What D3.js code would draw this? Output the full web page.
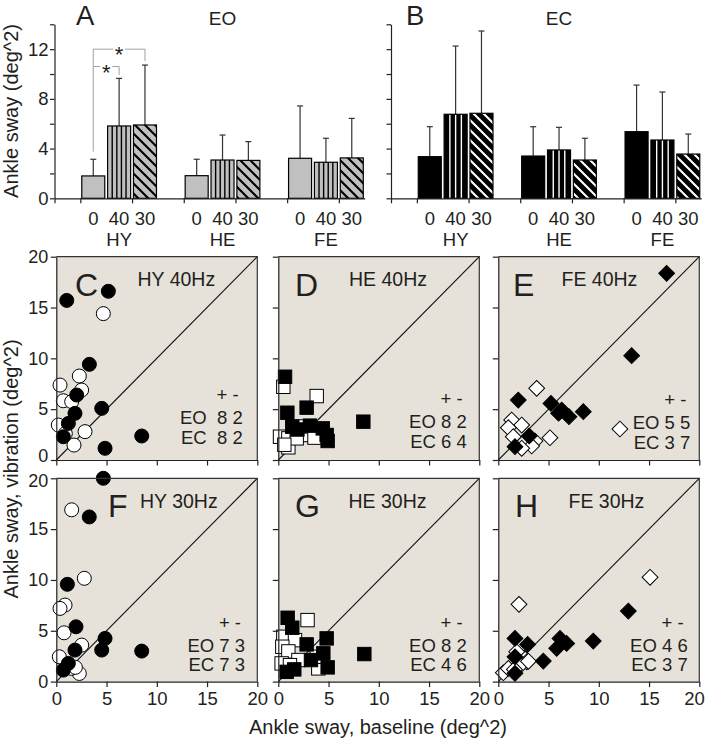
<!DOCTYPE html>
<html><head><meta charset="utf-8">
<script src="https://cdn.jsdelivr.net/npm/d3@7"></script>
<style>
body{margin:0;background:#fff;}
svg{display:block;font-family:"Liberation Sans",Arial,Helvetica,sans-serif;}
text{fill:#231f20;}
</style></head><body>
<svg id="chart" width="705" height="741"></svg>
<script>
// ---------------- DATA ----------------
const barGroups = ["HY", "HE", "FE"];
const barFreqs = ["0", "40", "30"];
// means and error-bar tops (mean + SD), order: HY0 HY40 HY30 HE0 HE40 HE30 FE0 FE40 FE30
const eoMean = [1.8, 5.82, 5.9, 1.82, 3.08, 3.05, 3.22, 2.9, 3.25];
const eoErrTop = [3.14, 9.65, 10.72, 3.14, 5.09, 4.56, 7.43, 4.83, 6.43];
const ecMean = [3.35, 6.76, 6.84, 3.4, 3.89, 3.08, 5.36, 4.69, 3.56];
const ecErrTop = [5.76, 12.25, 13.46, 5.76, 5.71, 4.83, 9.11, 8.55, 5.17];
const barYTicks = [0, 2, 4, 6, 8, 10, 12, 14];
const barYLabels = [0, 4, 8, 12];
// significance brackets in panel A (bar indices, level, drop ends)
const sigFrom = [0, 0];
const sigTo = [1, 2];
const sigLevel = [10.6, 12.0];
const sigLeftEnd = [3.75, 10.6];
const sigRightEnd = [9.92, 11.05];

const scatterTicks = [0, 5, 10, 15, 20];
const panelLetters = ["C", "D", "E", "F", "G", "H"];
const panelTitles = ["HY 40Hz", "HE 40Hz", "FE 40Hz", "HY 30Hz", "HE 30Hz", "FE 30Hz"];
const panelShapes = ["circle", "square", "diamond", "circle", "square", "diamond"];
const countEO = ["EO  8 2", "EO 8 2", "EO 5 5", "EO 7 3", "EO 8 2", "EO 4 6"];
const countEC = ["EC  8 2", "EC 6 4", "EC 3 7", "EC 7 3", "EC 4 6", "EC 3 7"];

// [baseline, vibration] pairs, eyes open (white) and eyes closed (black)
const hy40EO = [[4.68,14.4],[0.37,7.37],[2.29,8.26],[2.52,6.88],[0.7,5.83],[1.53,5.74],[0.2,3.44],[2.86,2.79],[1.76,1.47],[0.9,2.6]];
const hy40EC = [[1.04,15.7],[5.18,16.6],[3.29,9.41],[2.03,6.39],[1.86,4.59],[1.2,3.6],[0.7,2.29],[4.52,5.08],[8.5,2.36],[4.85,1.15]];
const he40EO = [[0.5,7.2],[3.82,6.29],[0.17,2.29],[1.0,2.13],[1.0,1.25],[2.91,2.46],[1.83,2.13],[0.6,1.5],[2.2,3.3],[3.6,2.2]];
const he40EC = [[0.67,8.19],[2.82,5.15],[0.9,4.65],[1.39,3.28],[3.15,3.38],[4.42,3.11],[4.81,2.46],[4.91,1.87],[8.46,3.77],[1.9,3.0]];
const fe40EO = [[3.82,7.05],[1.33,3.93],[2.33,3.44],[1.0,3.18],[5.14,2.19],[12.1,3.05],[3.65,1.87],[3.32,1.38],[1.49,2.29],[2.33,1.15]];
const fe40EC = [[16.75,18.36],[13.27,10.26],[1.99,5.9],[5.24,5.57],[6.31,4.92],[7.03,4.26],[8.46,4.75],[3.08,2.36],[1.66,1.31],[6.0,4.6]];
const hy30EO = [[1.53,16.9],[2.79,10.16],[0.87,7.53],[0.37,7.2],[0.77,4.8],[2.53,3.59],[0.3,2.44],[2.29,0.8],[1.5,1.3],[1.9,1.4]];
const hy30EC = [[4.68,20.0],[3.28,16.2],[1.1,9.57],[1.96,5.39],[4.85,4.25],[4.52,3.1],[1.86,3.1],[8.5,3.0],[1.2,1.79],[0.7,1.13]];
const he30EO = [[2.91,6.05],[0.5,4.41],[1.66,4.08],[0.4,3.43],[1.0,2.97],[0.33,1.79],[2.0,2.12],[3.98,1.3],[3.82,2.44],[1.16,1.62]];
const he30EC = [[0.93,6.28],[1.39,5.3],[4.81,4.25],[2.82,3.66],[4.48,2.78],[3.25,2.12],[4.91,1.4],[0.83,0.96],[1.59,1.2],[8.56,2.71]];
const fe30EO = [[15.1,10.26],[2.06,7.6],[2.59,2.28],[0.5,0.87],[1.83,2.93],[2.83,1.95],[1.0,1.3],[2.2,1.6],[1.6,1.2],[3.0,2.0]];
const fe30EC = [[1.66,4.25],[2.92,3.66],[6.14,4.25],[6.8,3.76],[5.81,3.27],[9.45,3.99],[12.94,6.94],[4.48,2.02],[1.66,2.44],[1.66,0.81]];
const panelEO = [hy40EO, he40EO, fe40EO, hy30EO, he30EO, fe30EO];
const panelEC = [hy40EC, he40EC, fe40EC, hy30EC, he30EC, fe30EC];

// ---------------- DRAW ----------------
const svg = d3.select("#chart");
const defs = svg.append("defs");
const axisColor = "#222";

// ---- bar charts A, B ----
const slot = 25.85;
const yBar = d3.scaleLinear().domain([0, 14]).range([198.3, 24.3]);
const barCharts = [
  {letter: "A", cond: "EO", x0: 54.5, means: eoMean, errs: eoErrTop, fill: "#c0c0c0", stripe: "#000", nStripes: 4, letterX: 76, condX: 222.5, id: "diagA"},
  {letter: "B", cond: "EC", x0: 391, means: ecMean, errs: ecErrTop, fill: "#000", stripe: "#fff", nStripes: 3, letterX: 406, condX: 559, id: "diagB"}
];

barCharts.forEach((bc, ci) => {
  const pat = defs.append("pattern").attr("id", bc.id).attr("patternUnits", "userSpaceOnUse")
    .attr("width", 10).attr("height", 10);
  pat.append("rect").attr("width", 10).attr("height", 10).attr("fill", bc.fill);
  pat.append("path").attr("d", "M-1,-1L11,11M-6,4L6,16M4,-6L16,6")
    .attr("stroke", bc.stripe).attr("stroke-width", 2.1);

  const xs = d3.scaleLinear().domain([0, 12]).range([bc.x0, bc.x0 + 12 * slot]);
  const g = svg.append("g");
  const bw = 0.445;
  const data = bc.means.map((m, i) => ({m, e: bc.errs[i], grp: Math.floor(i / 3), f: i % 3, c: 1.5 + Math.floor(i / 3) * 4 + (i % 3)}));

  data.forEach(d => {
    g.append("line").attr("x1", xs(d.c)).attr("x2", xs(d.c)).attr("y1", yBar(d.m)).attr("y2", yBar(d.e))
      .attr("stroke", "#333").attr("stroke-width", 1.2);
    g.append("line").attr("x1", xs(d.c) - 3).attr("x2", xs(d.c) + 3).attr("y1", yBar(d.e)).attr("y2", yBar(d.e))
      .attr("stroke", "#333").attr("stroke-width", 1.2);
  });

  data.forEach(d => {
    const bx = xs(d.c - bw), bwid = xs(d.c + bw) - xs(d.c - bw);
    const by = yBar(d.m), bh = yBar(0) - yBar(d.m);
    const fill = d.f === 2 ? `url(#${bc.id})` : bc.fill;
    g.append("rect").attr("x", bx).attr("y", by).attr("width", bwid).attr("height", bh)
      .attr("fill", fill).attr("stroke", "none");
    if (d.f === 1) {
      for (let k = 1; k <= bc.nStripes; k++) {
        const lx = bx + k * bwid / (bc.nStripes + 1);
        g.append("line").attr("x1", lx).attr("x2", lx).attr("y1", by).attr("y2", by + bh)
          .attr("stroke", bc.stripe).attr("stroke-width", 1.4);
      }
    }
    g.append("rect").attr("x", bx).attr("y", by).attr("width", bwid).attr("height", bh)
      .attr("fill", "none").attr("stroke", "#000").attr("stroke-width", 1.2);
  });

  const ya = g.append("g").attr("transform", `translate(${bc.x0},0)`)
    .call(d3.axisLeft(yBar).tickValues(barYTicks).tickSize(4.5).tickSizeOuter(0)
      .tickFormat(d => (ci === 0 && barYLabels.includes(d)) ? d : ""));
  ya.selectAll("path,line").attr("stroke", axisColor).attr("stroke-width", 1.2);
  ya.selectAll("text").attr("font-size", 18.5).attr("fill", "#231f20").attr("font-family", "Liberation Sans, Arial, sans-serif").attr("x", -6);

  const xa = g.append("g").attr("transform", `translate(0,${yBar(0)})`)
    .call(d3.axisBottom(xs).tickValues([0, 1, 3, 5, 7, 9, 11]).tickSize(5).tickSizeOuter(0).tickFormat(""));
  xa.selectAll("path,line").attr("stroke", axisColor).attr("stroke-width", 1.2);

  data.forEach(d => {
    g.append("text").attr("x", xs(d.c)).attr("y", 225).attr("text-anchor", "middle")
      .attr("font-size", 18.5).text(barFreqs[d.f]);
  });
  barGroups.forEach((gn, gi) => {
    g.append("text").attr("x", xs(2.5 + gi * 4)).attr("y", 246).attr("text-anchor", "middle")
      .attr("font-size", 18.5).text(gn);
  });
  g.append("text").attr("x", bc.letterX).attr("y", 25).attr("font-size", 27.5).text(bc.letter);
  g.append("text").attr("x", bc.condX).attr("y", 24.5).attr("text-anchor", "middle").attr("font-size", 19).text(bc.cond);

  if (ci === 0) {
    const cx = i => xs(data[i].c);
    sigFrom.forEach((f, k) => {
      const x1 = cx(f), x2 = cx(sigTo[k]), yl = yBar(sigLevel[k]);
      const mid = (x1 + x2) / 2;
      const gap = 6;
      const ln = (a, b, c, e) => g.append("line").attr("x1", a).attr("y1", b).attr("x2", c).attr("y2", e)
        .attr("stroke", "#a0a0a0").attr("stroke-width", 1);
      ln(x1, yl, mid - gap, yl);
      ln(mid + gap, yl, x2, yl);
      ln(x1, yl, x1, yBar(sigLeftEnd[k]));
      ln(x2, yl, x2, yBar(sigRightEnd[k]));
      g.append("text").attr("x", mid).attr("y", yl + 13).attr("text-anchor", "middle")
        .attr("font-size", 22).attr("fill", "#333").text("*");
    });
  }
});

svg.append("text").attr("transform", "translate(18,111) rotate(-90)").attr("text-anchor", "middle")
  .attr("font-size", 20).text("Ankle sway (deg^2)");

// ---- scatter panels ----
const pLefts = [56.3, 278.3, 498.3];
const pTops = [256.7, 478.3];
const pW = 201, pH = 203.3;
const letterXs = [75, 295, 513, 108, 295, 515];
const titleXs = [137.5, 349, 561.5, 140, 348.5, 568.5];
const countRight = [14.6, 12.6, 9, 12.3, 12.6, 11.6];
const countBase = [36, 32, 31, 30, 30, 30];

panelLetters.forEach((L, p) => {
  const col = p % 3, row = Math.floor(p / 3);
  const left = pLefts[col], top = pTops[row];
  const x = d3.scaleLinear().domain([0, 20]).range([left, left + pW]);
  const y = d3.scaleLinear().domain([0, 20]).range([top + pH, top]);
  const g = svg.append("g");
  g.append("rect").attr("x", x(0)).attr("y", y(20)).attr("width", x(20) - x(0)).attr("height", y(0) - y(20))
    .attr("fill", "#e6e2da");
  g.append("line").attr("x1", x(0)).attr("y1", y(0)).attr("x2", x(20)).attr("y2", y(20))
    .attr("stroke", "#111").attr("stroke-width", 1.1);

  const shape = panelShapes[p];
  const drawPts = (arr, fill) => {
    arr.forEach(([bx, vy]) => {
      if (shape === "circle") {
        g.append("circle").attr("cx", x(bx)).attr("cy", y(vy)).attr("r", 7)
          .attr("fill", fill).attr("stroke", "#000").attr("stroke-width", 1);
      } else if (shape === "square") {
        g.append("rect").attr("x", x(bx) - 6.7).attr("y", y(vy) - 6.7).attr("width", 13.4).attr("height", 13.4)
          .attr("fill", fill).attr("stroke", "#000").attr("stroke-width", 1);
      } else {
        g.append("path").attr("d", d3.symbol(d3.symbolSquare, 125)())
          .attr("transform", `translate(${x(bx)},${y(vy)}) rotate(45)`)
          .attr("fill", fill).attr("stroke", "#000").attr("stroke-width", 1);
      }
    });
  };
  drawPts(panelEO[p], "#fff");
  drawPts(panelEC[p], "#000");

  g.append("path").attr("d", `M${x(0)},${y(20)}H${x(20)}V${y(0)}`).attr("fill", "none")
    .attr("stroke", "#333").attr("stroke-width", 1.2);
  const ya = g.append("g").attr("transform", `translate(${x(0)},0)`)
    .call(d3.axisLeft(y).tickValues(scatterTicks).tickSize(5.5).tickSizeOuter(0)
      .tickFormat(d => col === 0 ? d : ""));
  ya.selectAll("path,line").attr("stroke", axisColor).attr("stroke-width", 1.2);
  ya.selectAll("text").attr("font-size", 18).attr("fill", "#231f20").attr("font-family", "Liberation Sans, Arial, sans-serif").attr("x", -8)
    .attr("dy", d => (row === 0 && d === 0) ? "0.1em" : (row === 1 && d === 20) ? "0.45em" : "0.32em");
  const xa = g.append("g").attr("transform", `translate(0,${y(0)})`)
    .call(d3.axisBottom(x).tickValues(scatterTicks).tickSize(5.5).tickSizeOuter(0)
      .tickFormat(d => row === 1 ? d : ""));
  xa.selectAll("path,line").attr("stroke", axisColor).attr("stroke-width", 1.2);
  xa.selectAll("text").attr("font-size", 18.5).attr("fill", "#231f20").attr("font-family", "Liberation Sans, Arial, sans-serif").attr("y", 10)
    .attr("text-anchor", d => (col === 2 && d === 20) ? "end" : "middle")
    .attr("x", d => (col === 2 && d === 20) ? 5 : 0);

  g.append("text").attr("x", letterXs[p]).attr("y", top + 39).attr("font-size", 32).text(L);
  g.append("text").attr("x", titleXs[p]).attr("y", top + 29.5).attr("font-size", 19.5).text(panelTitles[p]);
  const rx = x(20) - countRight[p];
  const b1 = y(0) - countBase[p];
  g.append("text").attr("x", rx - 4).attr("y", b1 - 23).attr("text-anchor", "end").attr("font-size", 18.5)
    .style("white-space", "pre").text("+ -");
  g.append("text").attr("x", rx).attr("y", b1).attr("text-anchor", "end").attr("font-size", 18.5)
    .style("white-space", "pre").text(countEO[p]);
  g.append("text").attr("x", rx).attr("y", b1 + 19.5).attr("text-anchor", "end").attr("font-size", 18.5)
    .style("white-space", "pre").text(countEC[p]);
});

svg.append("text").attr("transform", "translate(18,469) rotate(-90)").attr("text-anchor", "middle")
  .attr("font-size", 20).text("Ankle sway, vibration (deg^2)");
svg.append("text").attr("x", 378).attr("y", 734).attr("text-anchor", "middle")
  .attr("font-size", 20).text("Ankle sway, baseline (deg^2)");
</script>
</body></html>
